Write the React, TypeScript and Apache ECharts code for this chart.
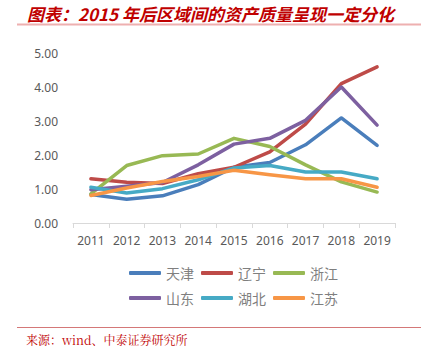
import React, { useEffect, useRef } from "react";
import * as echarts from "echarts";

const years = ["2011", "2012", "2013", "2014", "2015", "2016", "2017", "2018", "2019"];
const tianjin = [0.84, 0.7, 0.8, 1.13, 1.64, 1.78, 2.3, 3.09, 2.28];
const liaoning = [1.3, 1.2, 1.16, 1.45, 1.64, 2.09, 2.91, 4.1, 4.59];
const zhejiang = [0.86, 1.69, 1.98, 2.03, 2.49, 2.25, 1.71, 1.21, 0.91];
const shandong = [0.98, 1.08, 1.19, 1.71, 2.32, 2.49, 3.02, 4.0, 2.88];
const hubei = [1.05, 0.88, 1.01, 1.27, 1.62, 1.69, 1.5, 1.5, 1.3];
const jiangsu = [0.81, 1.03, 1.22, 1.37, 1.55, 1.42, 1.3, 1.3, 1.05];

const seriesNames = ["天津", "辽宁", "浙江", "山东", "湖北", "江苏"];
const seriesData = [tianjin, liaoning, zhejiang, shandong, hubei, jiangsu];
const colors = ["#4a7ebb", "#be4b48", "#98b954", "#7d60a0", "#46aac5", "#f79646"];

const titleText = "图表：2015 年后区域间的资产质量呈现一定分化";
const sourceText = "来源：wind、中泰证券研究所";

export default function App() {
  const ref = useRef<HTMLDivElement>(null);
  useEffect(() => {
    if (!ref.current) return;
    const chart = echarts.init(ref.current, null, { renderer: "svg" });
    const legendCommon = {
      itemWidth: 32,
      itemHeight: 4,
      itemGap: 7,
      icon: "roundRect",
      textStyle: { color: "#7f7f7f", fontSize: 14, fontFamily: "Noto Sans CJK SC" },
    };
    chart.setOption({
      animation: false,
      backgroundColor: "#ffffff",
      color: colors,
      grid: { left: 73, right: 32, top: 53, bottom: 127 },
      legend: [
        { ...legendCommon, data: seriesNames.slice(0, 3), left: 124, top: 261 },
        { ...legendCommon, data: seriesNames.slice(3), left: 124, top: 286 },
      ],
      xAxis: {
        type: "category",
        data: years,
        boundaryGap: true,
        axisLine: { lineStyle: { color: "#d9d9d9", width: 1 } },
        axisTick: { show: true, inside: false, length: 5, lineStyle: { color: "#d9d9d9" } },
        axisLabel: { color: "#595959", fontSize: 12, margin: 11, fontFamily: "Noto Sans" },
      },
      yAxis: {
        type: "value",
        min: 0,
        max: 5,
        interval: 1,
        axisLine: { show: false },
        axisTick: { show: false },
        splitLine: { show: false },
        axisLabel: {
          color: "#595959",
          fontSize: 12,
          margin: 15,
          fontFamily: "Noto Sans",
          formatter: (v: number) => v.toFixed(2),
        },
      },
      series: seriesNames.map((name, i) => ({
        name,
        type: "line",
        data: seriesData[i],
        symbol: "none",
        lineStyle: { width: 3.5, color: colors[i], cap: "round", join: "round" },
        itemStyle: { color: colors[i] },
      })),
      graphic: [
        {
          type: "text",
          x: 27,
          y: 13,
          style: {
            text: titleText,
            fill: "#c00000",
            font: "italic bold 17px 'Noto Sans CJK SC'",
            verticalAlign: "middle",
          },
        },
        {
          type: "line",
          shape: { x1: 17, y1: 24.5, x2: 421, y2: 24.5 },
          style: { stroke: "#eeb0b0", lineWidth: 2 },
        },
        {
          type: "line",
          shape: { x1: 17, y1: 327.5, x2: 421, y2: 327.5 },
          style: { stroke: "#d47878", lineWidth: 1 },
        },
        {
          type: "text",
          x: 26,
          y: 339,
          style: {
            text: sourceText,
            fill: "#c00000",
            font: "12px 'Noto Serif CJK SC', 'Noto Sans CJK SC'",
            verticalAlign: "middle",
          },
        },
      ],
    });
    return () => chart.dispose();
  }, []);
  return (
    <div
      ref={ref}
      style={{ position: "absolute", left: 0, top: 0, width: 427, height: 350 }}
    />
  );
}
